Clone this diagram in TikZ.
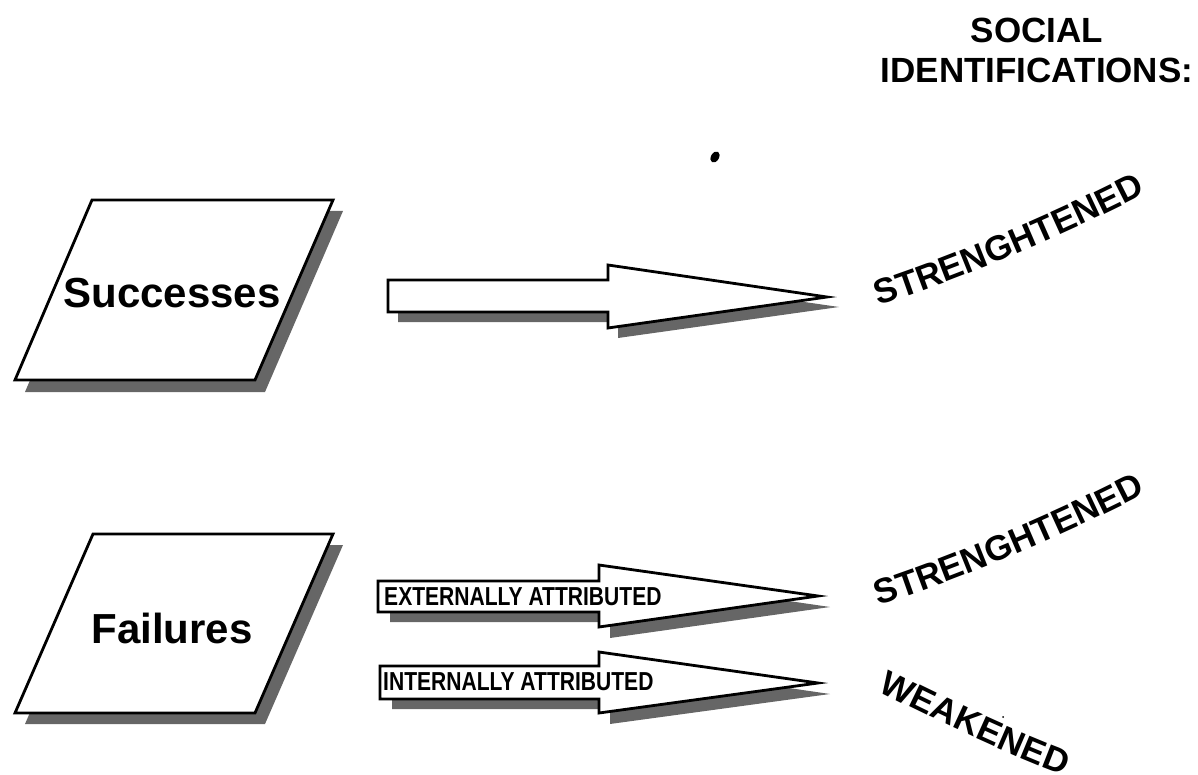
\documentclass[tikz,border=0pt]{standalone}
\usepackage{fontspec}
\setmainfont{Liberation Sans}
\newfontfamily\narrowfont[FakeStretch=0.81]{Liberation Sans}
\usetikzlibrary{decorations.text}
\newcommand\arcword{\fontsize{35}{35}\selectfont\bfseries}
\begin{document}
\begin{tikzpicture}[x=1pt,y=-1pt,
  outline/.style={draw=black, line width=2.8pt, fill=white, line join=miter},
  dropshade/.style={fill=black!60},
  bigword/.style={font=\fontsize{42}{42}\selectfont\bfseries, inner sep=0pt},
  headword/.style={font=\fontsize{35}{35}\selectfont\bfseries, inner sep=0pt},
  arrowword/.style={font=\narrowfont\bfseries\fontsize{26}{26}\selectfont, inner sep=0pt, anchor=base west},
  arctext/.style={decorate, decoration={text along path, text align=center, text={|\arcword|#1}}}]
\useasboundingbox (0,0) rectangle (1198,775);

% heading
\node[headword] (social) at (1037,43) [anchor=base] {SOCIAL};
\node[headword] (ident) at (1037,83) [anchor=base] {IDENTIFICATIONS:};

% stray ink marks
\fill[rotate around={-30:(715,157)}] (715,157) ellipse (4 and 6);
\fill (1003,717) circle (1);

% Successes box with drop shade
\fill[dropshade] (102,211) -- (343,211) -- (265,392) -- (25,392) -- cycle;
\draw[outline] (92,200) -- (333,200) -- (255,380) -- (15,380) -- cycle;
\node[bigword, anchor=base] (succ) at (172,308) {Successes};

% Failures box with drop shade
\fill[dropshade] (103,545) -- (343,545) -- (265,724) -- (25,724) -- cycle;
\draw[outline] (93,534) -- (333,534) -- (255,713) -- (15,713) -- cycle;
\node[bigword, anchor=base] (fail) at (172,643) {Failures};

% block arrow for successes
\fill[dropshade] (398,290) -- (618,290) -- (618,275) -- (839,307) -- (618,338) -- (618,322) -- (398,322) -- cycle;
\draw[outline] (388,280) -- (608,280) -- (608,265) -- (827,297) -- (608,328) -- (608,312) -- (388,312) -- cycle;

% block arrow, externally attributed
\fill[dropshade] (390,591) -- (610,591) -- (610,575) -- (830,607) -- (610,638) -- (610,622) -- (390,622) -- cycle;
\draw[outline] (378,581) -- (599,581) -- (599,565) -- (818,596) -- (599,627) -- (599,612) -- (378,612) -- cycle;
\node[arrowword] (ext) at (384,605) {EXTERNALLY ATTRIBUTED};

% block arrow, internally attributed
\fill[dropshade] (392,676) -- (610,676) -- (610,662) -- (830,694) -- (610,724) -- (610,709) -- (392,709) -- cycle;
\draw[outline] (380,666) -- (599,666) -- (599,652) -- (818,683) -- (599,713) -- (599,699) -- (380,699) -- cycle;
\node[arrowword] (int) at (383,690) {INTERNALLY ATTRIBUTED};

% outcomes written along curves
\path[arctext=STRENGHTENED] (872,308) .. controls (957,281) and (1068,234) .. (1152,190);
\path[arctext=STRENGHTENED] (872,608) .. controls (957,581) and (1068,534) .. (1152,490);
\path[arctext=WEAKENED] (868,686) .. controls (927,716) and (1010,756) .. (1074,779);
\end{tikzpicture}
\end{document}
